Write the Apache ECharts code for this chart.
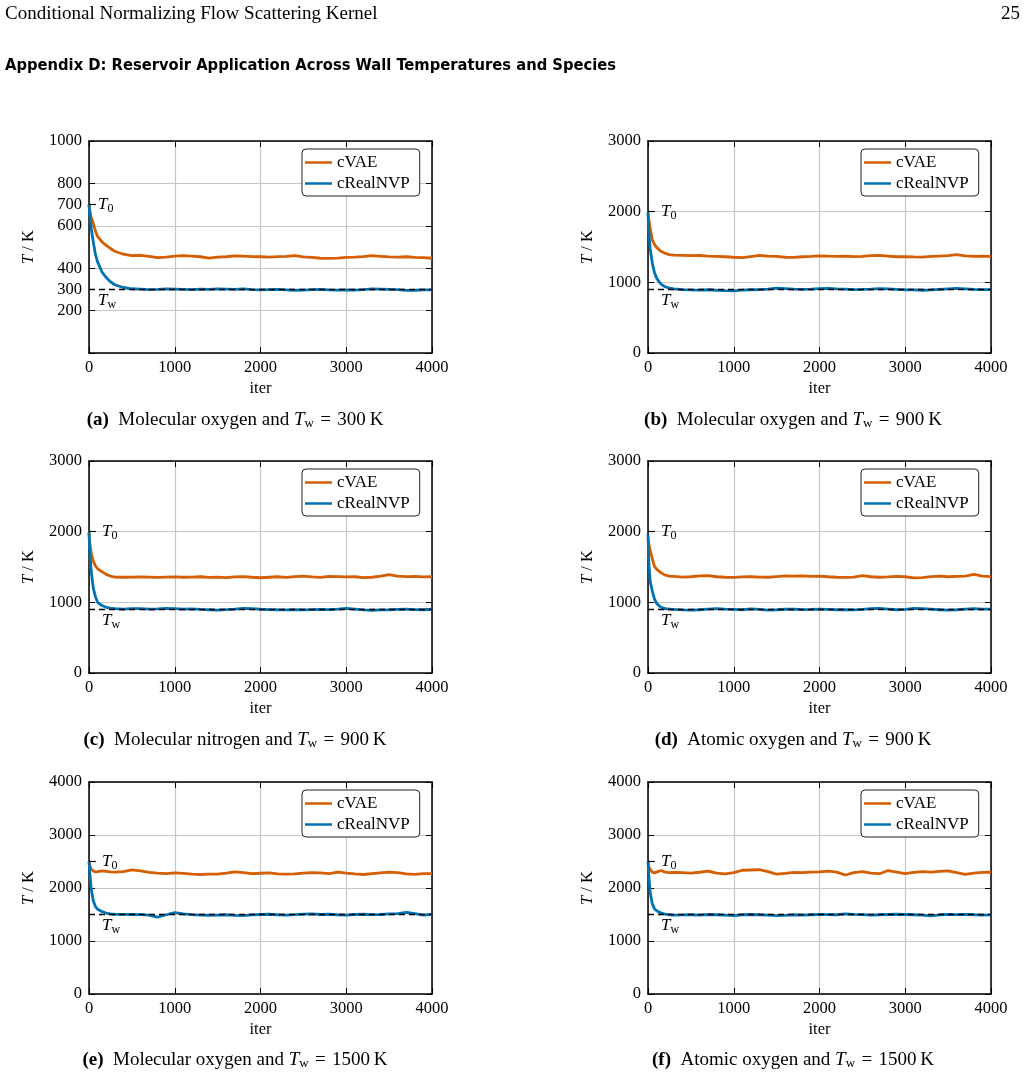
<!DOCTYPE html>
<html>
<head>
<meta charset="utf-8">
<title>Reservoir application</title>
<script src="https://cdn.jsdelivr.net/npm/echarts@6/dist/echarts.min.js"></script>
<style>
  html, body { margin: 0; padding: 0; background: #fff; }
  #chart { width: 1027px; height: 1077px; }
</style>
</head>
<body>
<div id="chart"></div>
<script>
// iteration grid shared by all curves (dense at the start, then every 100)
const iters = [0, 10, 25, 50, 75, 100, 150, 200, 250, 300,
  400, 500, 600, 700, 800, 900, 1000, 1100, 1200, 1300, 1400, 1500,
  1600, 1700, 1800, 1900, 2000, 2100, 2200, 2300, 2400, 2500,
  2600, 2700, 2800, 2900, 3000, 3100, 3200, 3300, 3400, 3500,
  3600, 3700, 3800, 3900, 4000];

// (a) O2, Tw = 300 K
const cvaeA = [700, 672, 640, 612, 575, 550, 525, 508, 493, 480,
  466, 459, 461, 456, 450, 452, 457, 459, 457, 454, 448, 452,
  454, 458, 457, 455, 454, 452, 455, 456, 459, 453,
  451, 447, 446, 448, 451, 452, 455, 459, 456, 453,
  452, 454, 451, 450, 447];
const nvpA = [700, 655, 590, 525, 465, 430, 383, 356, 336, 322,
  309, 303, 301, 299, 300, 302, 301, 300, 299, 301, 300, 302,
  301, 300, 302, 299, 298, 299, 300, 298, 296, 297,
  299, 300, 298, 297, 298, 297, 299, 302, 301, 300,
  299, 295, 296, 298, 298];

// (b) O2, Tw = 900 K
const cvaeB = [1980, 1880, 1770, 1600, 1540, 1495, 1440, 1410, 1393, 1385,
  1382, 1378, 1380, 1372, 1368, 1362, 1355, 1350, 1365, 1380, 1372, 1368,
  1355, 1352, 1362, 1368, 1375, 1370, 1366, 1372, 1365, 1368,
  1378, 1382, 1372, 1362, 1365, 1360, 1358, 1366, 1372, 1378,
  1392, 1375, 1368, 1372, 1368];
const nvpB = [1990, 1720, 1480, 1270, 1140, 1060, 975, 937, 918, 908,
  898, 893, 890, 895, 888, 882, 880, 890, 895, 898, 905, 918,
  912, 905, 900, 905, 912, 915, 908, 903, 897, 900,
  905, 912, 908, 900, 895, 893, 888, 892, 900, 908,
  915, 908, 900, 898, 896];

// (c) N2, Tw = 900 K
const cvaeC = [1990, 1840, 1700, 1580, 1515, 1475, 1435, 1395, 1372, 1358,
  1355, 1358, 1360, 1356, 1352, 1357, 1360, 1355, 1358, 1362, 1352, 1357,
  1350, 1360, 1363, 1355, 1348, 1355, 1362, 1354, 1365, 1370,
  1360, 1352, 1368, 1364, 1360, 1362, 1350, 1355, 1370, 1392,
  1372, 1365, 1368, 1360, 1362];
const nvpC = [1990, 1700, 1450, 1200, 1080, 1000, 955, 930, 918, 910,
  905, 910, 912, 905, 908, 915, 910, 905, 908, 900, 895, 890,
  898, 905, 915, 910, 902, 898, 895, 893, 898, 892,
  896, 900, 898, 905, 915, 905, 892, 888, 892, 895,
  900, 905, 898, 895, 902];

// (d) O, Tw = 900 K
const cvaeD = [1910, 1820, 1740, 1620, 1510, 1470, 1420, 1385, 1372, 1368,
  1358, 1362, 1375, 1378, 1362, 1355, 1352, 1360, 1362, 1358, 1355, 1365,
  1375, 1372, 1375, 1368, 1372, 1362, 1355, 1352, 1358, 1378,
  1362, 1355, 1360, 1368, 1362, 1345, 1350, 1365, 1370, 1362,
  1368, 1372, 1395, 1370, 1365];
const nvpD = [1960, 1560, 1300, 1160, 1050, 985, 930, 910, 905, 900,
  892, 890, 895, 905, 912, 905, 900, 895, 908, 900, 890, 895,
  902, 905, 898, 900, 905, 900, 895, 898, 893, 900,
  912, 915, 905, 895, 900, 915, 910, 905, 895, 890,
  895, 905, 910, 905, 905];

// (e) O2, Tw = 1500 K
const cvaeE = [2500, 2420, 2365, 2320, 2305, 2310, 2325, 2315, 2305, 2300,
  2310, 2340, 2325, 2295, 2280, 2270, 2285, 2275, 2262, 2255, 2260, 2262,
  2280, 2305, 2290, 2270, 2278, 2285, 2268, 2260, 2265, 2280,
  2290, 2285, 2272, 2300, 2282, 2265, 2255, 2270, 2285, 2300,
  2290, 2265, 2258, 2270, 2272];
const nvpE = [2500, 2280, 1990, 1760, 1650, 1600, 1555, 1528, 1512, 1505,
  1502, 1500, 1498, 1490, 1450, 1495, 1535, 1510, 1498, 1490, 1486, 1490,
  1495, 1485, 1480, 1492, 1500, 1505, 1495, 1490, 1498, 1508,
  1512, 1500, 1505, 1495, 1490, 1500, 1505, 1498, 1500, 1510,
  1518, 1540, 1515, 1490, 1505];

// (f) O, Tw = 1500 K
const cvaeF = [2480, 2400, 2350, 2300, 2285, 2300, 2330, 2300, 2290, 2295,
  2290, 2280, 2297, 2320, 2280, 2265, 2290, 2335, 2340, 2345, 2310, 2260,
  2275, 2295, 2290, 2300, 2305, 2320, 2300, 2245, 2290, 2310,
  2280, 2270, 2330, 2300, 2270, 2295, 2310, 2300, 2315, 2325,
  2290, 2255, 2280, 2295, 2297];
const nvpF = [2500, 2220, 1920, 1700, 1610, 1570, 1530, 1505, 1495, 1490,
  1492, 1495, 1490, 1500, 1495, 1488, 1480, 1495, 1500, 1495, 1490, 1480,
  1485, 1495, 1490, 1495, 1500, 1498, 1495, 1510, 1502, 1498,
  1490, 1495, 1500, 1505, 1500, 1495, 1490, 1475, 1495, 1500,
  1498, 1500, 1495, 1490, 1492];

const panelLetters = ['a', 'b', 'c', 'd', 'e', 'f'];
const speciesNames = ['Molecular oxygen', 'Molecular oxygen', 'Molecular nitrogen',
  'Atomic oxygen', 'Molecular oxygen', 'Atomic oxygen'];
const wallTemps = [300, 900, 900, 900, 1500, 1500];
const initTemps = [700, 2000, 2000, 2000, 2500, 2500];
const yMaxes = [1000, 3000, 3000, 3000, 4000, 4000];
const yIntervals = [200, 1000, 1000, 1000, 1000, 1000];
const yTickLabelsA = [200, 300, 400, 600, 700, 800, 1000];
const cvaeSeries = [cvaeA, cvaeB, cvaeC, cvaeD, cvaeE, cvaeF];
const nvpSeries = [nvpA, nvpB, nvpC, nvpD, nvpE, nvpF];

const ORANGE = '#D55E00';
const BLUE = '#0072B2';
const SERIF = "'Liberation Serif', 'DejaVu Serif', serif";

// layout of the 3x2 panels
const colLeft = [89, 648];
const rowTop = [141, 461, 782];
const captionX = [235, 793];
const captionY = [420, 740, 1060];
const PW = 343, PH = 212;

function mathRich(size) {
  return {
    i: { fontFamily: SERIF, fontStyle: 'italic', fontSize: size, color: '#000' },
    s: { fontFamily: SERIF, fontSize: Math.round(size * 0.68), color: '#000', padding: [8, 0, 0, 0] },
    b: { fontFamily: SERIF, fontWeight: 'bold', fontSize: size, color: '#000' }
  };
}
const plainNum = v => String(v);

const chart = echarts.init(document.getElementById('chart'));

const grid = [], xAxis = [], yAxis = [], series = [], legend = [];
const title = [
  { text: 'Conditional Normalizing Flow Scattering Kernel', left: 5, top: 14, padding: 0,
    textAlign: 'left', textVerticalAlign: 'middle',
    textStyle: { fontFamily: SERIF, fontSize: 19, fontWeight: 'normal', color: '#000' } },
  { text: '25', left: 1020, top: 14, padding: 0, textAlign: 'right', textVerticalAlign: 'middle',
    textStyle: { fontFamily: SERIF, fontSize: 19, fontWeight: 'normal', color: '#000' } },
  { text: 'Appendix D: Reservoir Application Across Wall Temperatures and Species',
    left: 5, top: 66, padding: 0, textAlign: 'left', textVerticalAlign: 'middle',
    textStyle: { fontFamily: "'DejaVu Sans Condensed', 'Liberation Sans Narrow', 'Liberation Sans', sans-serif",
      fontSize: 16.4, fontWeight: 'bold', color: '#000' } }
];

const tickStyle = { show: true, inside: true, length: 6, lineStyle: { color: '#000', width: 1 } };
const boxLine = { show: true, onZero: false, lineStyle: { color: '#000', width: 1.5 } };
const gridLine = { show: true, lineStyle: { color: '#c6c6c6', width: 1.2 } };

panelLetters.forEach((letter, i) => {
  const col = i % 2, row = Math.floor(i / 2);
  const left = colLeft[col], top = rowTop[row];
  const labelGap = i === 0 ? 9 : 13;
  grid.push({ left: left, top: top, width: PW, height: PH });

  xAxis.push({
    gridIndex: i, type: 'value', min: 0, max: 4000, interval: 1000, position: 'bottom',
    axisLine: boxLine, axisTick: tickStyle, splitLine: gridLine,
    axisLabel: { color: '#000', fontFamily: SERIF, fontSize: 16.5, margin: 6, formatter: plainNum },
    name: 'iter', nameLocation: 'middle', nameGap: 27,
    nameTextStyle: { color: '#000', fontFamily: SERIF, fontSize: 16.5 }
  });
  xAxis.push({
    gridIndex: i, type: 'value', min: 0, max: 4000, interval: 1000, position: 'top',
    axisLine: boxLine, axisTick: tickStyle, axisLabel: { show: false }, splitLine: { show: false }
  });

  const yLabel = { color: '#000', fontFamily: SERIF, fontSize: 16.5, margin: 7, formatter: plainNum };
  if (i === 0) yLabel.customValues = yTickLabelsA;
  yAxis.push({
    gridIndex: i, type: 'value', min: 0, max: yMaxes[i], interval: yIntervals[i], position: 'left',
    axisLine: boxLine, axisTick: tickStyle, splitLine: gridLine, axisLabel: yLabel,
    name: '{i|T} / K', nameLocation: 'middle', nameGap: 52,
    nameTextStyle: { color: '#000', fontFamily: SERIF, fontSize: 16.5, rich: mathRich(16.5) }
  });
  yAxis.push({
    gridIndex: i, type: 'value', min: 0, max: yMaxes[i], interval: yIntervals[i], position: 'right',
    axisLine: boxLine, axisTick: tickStyle, axisLabel: { show: false }, splitLine: { show: false }
  });

  series.push({
    name: 'cVAE', type: 'line', xAxisIndex: 2 * i, yAxisIndex: 2 * i,
    data: iters.map((t, k) => [t, cvaeSeries[i][k]]),
    showSymbol: false, symbol: 'none',
    lineStyle: { color: ORANGE, width: 2.8 }, itemStyle: { color: ORANGE }
  });
  series.push({
    name: 'cRealNVP', type: 'line', xAxisIndex: 2 * i, yAxisIndex: 2 * i,
    data: iters.map((t, k) => [t, nvpSeries[i][k]]),
    showSymbol: false, symbol: 'none',
    lineStyle: { color: BLUE, width: 2.8 }, itemStyle: { color: BLUE },
    markLine: {
      silent: true, symbol: 'none', label: { show: false }, animation: false,
      data: [
        { yAxis: wallTemps[i], lineStyle: { type: [6, 4], color: '#000', width: 1.3 } },
        [{ coord: [0, initTemps[i]], lineStyle: { type: 'solid', color: '#000', width: 1.2 } },
         { coord: [80, initTemps[i]] }]
      ]
    },
    markPoint: {
      silent: true, symbol: 'circle', symbolSize: 0, animation: false,
      itemStyle: { color: 'transparent' },
      label: { show: true, position: 'right', color: '#000', rich: mathRich(17) },
      data: [
        { coord: [0, initTemps[i]], label: { formatter: '{i|T}{s|0}', distance: labelGap, offset: [0, 0] } },
        { coord: [0, wallTemps[i]], label: { formatter: '{i|T}{s|w}', distance: labelGap, offset: [0, 11] } }
      ]
    }
  });

  legend.push({
    data: ['cVAE', 'cRealNVP'], orient: 'vertical', left: left + 213, top: top + 8,
    selectedMode: false, icon: 'rect', itemWidth: 27, itemHeight: 2.5, itemGap: 4,
    padding: [5, 10, 4, 3], backgroundColor: '#fff',
    borderColor: '#222', borderWidth: 1, borderRadius: 4,
    textStyle: { color: '#000', fontFamily: SERIF, fontSize: 17 }
  });

  title.push({
    text: '{b|(' + letter + ')}\u2002' + speciesNames[i] + ' and {i|T}{s|w}\u2004=\u2004' + wallTemps[i] + '\u2009K',
    left: captionX[col], top: captionY[row], padding: 0,
    textAlign: 'center', textVerticalAlign: 'middle',
    textStyle: { fontFamily: SERIF, fontSize: 19, fontWeight: 'normal', color: '#000', rich: mathRich(19) }
  });
});

chart.setOption({
  animation: false,
  backgroundColor: '#fff',
  title: title,
  legend: legend,
  grid: grid,
  xAxis: xAxis,
  yAxis: yAxis,
  series: series
});

window.addEventListener('resize', () => chart.resize());
</script>
</body>
</html>
